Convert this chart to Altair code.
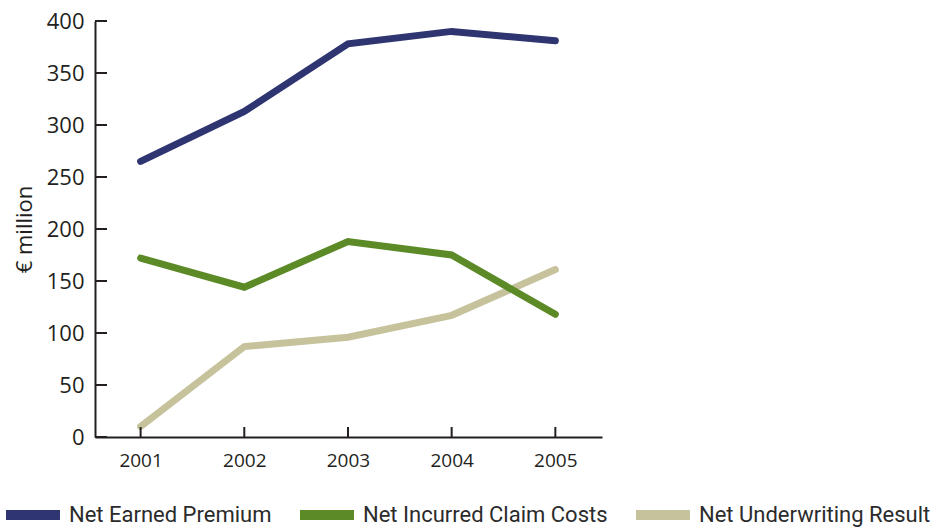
import altair as alt
import pandas as pd

# Annual figures, € million
years = [2001, 2002, 2003, 2004, 2005]
net_earned_premium = [265, 313, 378, 390, 381]
net_incurred_claim_costs = [172, 144, 188, 175, 118]
net_underwriting_result = [10, 87, 96, 117, 161]

series_names = ["Net Earned Premium", "Net Incurred Claim Costs", "Net Underwriting Result"]
series_colors = ["#2f3571", "#5b8a27", "#c6c29c"]
y_ticks = [0, 50, 100, 150, 200, 250, 300, 350, 400]

rows = []
for name, vals in zip(series_names, [net_earned_premium, net_incurred_claim_costs, net_underwriting_result]):
    for yr, v in zip(years, vals):
        rows.append({"year": yr, "value": v, "series": name})
df = pd.DataFrame(rows)

INK = "#231f20"
W, H = 507, 416
AXIS_FONT = "Open Sans"

x_scale = alt.Scale(domain=[2000.56, 2005.45], nice=False, zero=False)
y_scale = alt.Scale(domain=[0, 400], nice=False)
color_scale = alt.Scale(domain=series_names, range=series_colors)

x_enc = alt.X(
    "year:Q", scale=x_scale,
    axis=alt.Axis(values=years, format="d", title=None, grid=False, ticks=False,
                  domainColor=INK, domainWidth=2, labelColor=INK, labelFontSize=19,
                  labelFont=AXIS_FONT, labelPadding=14),
)
y_enc = alt.Y(
    "value:Q", scale=y_scale,
    axis=alt.Axis(values=y_ticks, title="€ million", grid=False, ticks=False,
                  domainColor=INK, domainWidth=2, labelColor=INK, labelFontSize=22,
                  labelFont=AXIS_FONT, labelPadding=11, titleFont=AXIS_FONT, titleFontSize=22,
                  titleFontWeight="normal", titleColor=INK, titlePadding=10),
)


def series_layer(name):
    return alt.Chart(df).transform_filter(alt.datum.series == name).mark_line(
        strokeWidth=7, strokeCap="round", strokeJoin="miter"
    ).encode(
        x=x_enc,
        y=y_enc,
        color=alt.Color(
            "series:N", scale=color_scale, sort=series_names,
            legend=alt.Legend(
                title=None, orient="none", legendX=-94, legendY=462, direction="horizontal",
                columns=3, padding=0, symbolType="stroke", symbolSize=2916, symbolStrokeWidth=10,
                labelFont="Roboto", labelFontSize=22, labelColor="#2b2b2b",
                labelOffset=4, columnPadding=8, labelLimit=400,
            ),
        ),
    )


# inward tick marks on both axes
y_tick_df = pd.DataFrame({"value": y_ticks})
x_tick_df = pd.DataFrame({"year": years})
y_tick_rules = alt.Chart(y_tick_df).mark_rule(color=INK, strokeWidth=2).encode(
    y=alt.Y("value:Q", scale=y_scale), x=alt.value(0), x2=alt.value(12)
)
x_tick_rules = alt.Chart(x_tick_df).mark_rule(color=INK, strokeWidth=2).encode(
    x=alt.X("year:Q", scale=x_scale), y=alt.value(H), y2=alt.value(H - 10)
)

chart = alt.layer(
    series_layer("Net Underwriting Result"),
    series_layer("Net Incurred Claim Costs"),
    series_layer("Net Earned Premium"),
    y_tick_rules,
    x_tick_rules,
).properties(
    width=W, height=H,
    padding={"left": 95, "top": 21, "right": 340, "bottom": 91},
    autosize=alt.AutoSizeParams(type="none"),
    background="white",
).configure_view(stroke=None)

chart.save("out.html", embed_options={"renderer": "svg", "actions": False})
